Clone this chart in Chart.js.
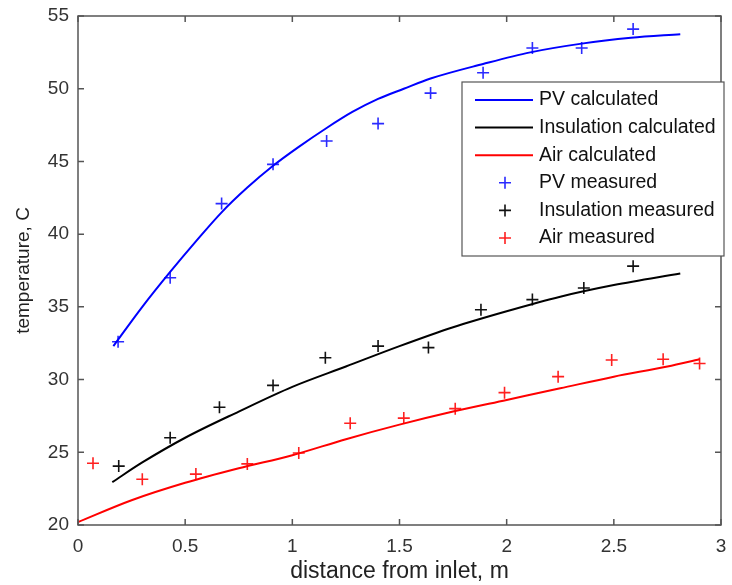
<!DOCTYPE html>
<html>
<head>
<meta charset="utf-8">
<script src="https://cdn.jsdelivr.net/npm/chart.js@4/dist/chart.umd.min.js"></script>
<style>
  body { margin: 0; background: #fff; }
  #wrap { width: 732px; height: 585px; }
</style>
</head>
<body>
<div id="wrap"><canvas id="tempChart" width="732" height="585"></canvas></div>
<script>
// calculated curves
var pvCalcX = [0.165, 0.3, 0.43, 0.55, 0.67, 0.79, 0.91, 1.03, 1.16, 1.28, 1.4, 1.52, 1.645, 1.89, 2.11, 2.35, 2.58, 2.81];
var pvCalcY = [32.3, 35.0, 37.4, 39.5, 41.5, 43.2, 44.7, 46.0, 47.3, 48.4, 49.3, 50.0, 50.7, 51.7, 52.5, 53.1, 53.5, 53.75];
var insCalcX = [0.16, 0.3, 0.5, 0.75, 1.0, 1.25, 1.5, 1.75, 2.0, 2.25, 2.5, 2.81];
var insCalcY = [22.95, 24.3, 26.0, 27.8, 29.5, 30.9, 32.3, 33.6, 34.7, 35.7, 36.5, 37.3];
var airCalcX = [0, 0.25, 0.5, 0.75, 1.0, 1.25, 1.5, 1.75, 2.0, 2.25, 2.5, 2.75, 2.9];
var airCalcY = [20.2, 21.7, 22.9, 23.9, 24.8, 25.9, 26.9, 27.8, 28.6, 29.4, 30.2, 30.9, 31.4];

// measured points
var pvMeasX = [0.187, 0.43, 0.67, 0.91, 1.16, 1.40, 1.645, 1.89, 2.12, 2.35, 2.59];
var pvMeasY = [32.6, 37.0, 42.1, 44.8, 46.4, 47.6, 49.7, 51.1, 52.8, 52.8, 54.1];
var insMeasX = [0.19, 0.43, 0.66, 0.91, 1.154, 1.40, 1.635, 1.88, 2.12, 2.36, 2.59];
var insMeasY = [24.05, 26.0, 28.1, 29.6, 31.5, 32.3, 32.2, 34.8, 35.5, 36.3, 37.8];
var airMeasX = [0.07, 0.30, 0.55, 0.79, 1.03, 1.27, 1.52, 1.76, 1.99, 2.24, 2.49, 2.73, 2.9];
var airMeasY = [24.25, 23.15, 23.5, 24.2, 24.95, 27.0, 27.35, 28.0, 29.1, 30.2, 31.35, 31.4, 31.1];

var xTicks = [0, 0.5, 1, 1.5, 2, 2.5, 3];
var yTicks = [20, 25, 30, 35, 40, 45, 50, 55];

var FONT = "'Liberation Sans', Arial, sans-serif";
var AXIS_COLOR = "#555555";

function toPoints(xs, ys) {
  return xs.map(function(x, i) { return { x: x, y: ys[i] }; });
}

function lineSet(label, xs, ys, color) {
  return {
    label: label,
    data: toPoints(xs, ys),
    showLine: true,
    borderColor: color,
    backgroundColor: color,
    borderWidth: 2,
    pointRadius: 0,
    cubicInterpolationMode: "monotone"
  };
}

function markSet(label, xs, ys, color) {
  return {
    label: label,
    data: toPoints(xs, ys),
    showLine: false,
    borderColor: color,
    backgroundColor: color,
    pointStyle: "cross",
    pointRadius: 6,
    pointBorderWidth: 1.6
  };
}

// box + inward ticks, matlab style
var boxPlugin = {
  id: "boxPlugin",
  afterDraw: function(chart) {
    var ctx = chart.ctx;
    var a = chart.chartArea;
    var xs = chart.scales.x, ys = chart.scales.y;
    ctx.save();
    ctx.strokeStyle = AXIS_COLOR;
    ctx.lineWidth = 1.5;
    ctx.strokeRect(a.left, a.top, a.right - a.left, a.bottom - a.top);
    ctx.beginPath();
    xTicks.forEach(function(v) {
      var px = xs.getPixelForValue(v);
      ctx.moveTo(px, a.bottom); ctx.lineTo(px, a.bottom - 6);
      ctx.moveTo(px, a.top); ctx.lineTo(px, a.top + 6);
    });
    yTicks.forEach(function(v) {
      var py = ys.getPixelForValue(v);
      ctx.moveTo(a.left, py); ctx.lineTo(a.left + 6, py);
      ctx.moveTo(a.right, py); ctx.lineTo(a.right - 6, py);
    });
    ctx.stroke();
    ctx.restore();
  }
};

// legend box inside the plot, upper right
var legendPlugin = {
  id: "legendPlugin",
  afterDraw: function(chart) {
    var ctx = chart.ctx;
    var a = chart.chartArea;
    var boxR = a.right + 3, boxL = 462, boxT = 82, boxB = 256;
    var rowH = 27.6, firstY = 100;
    ctx.save();
    ctx.fillStyle = "#ffffff";
    ctx.fillRect(boxL, boxT, boxR - boxL, boxB - boxT);
    ctx.strokeStyle = AXIS_COLOR;
    ctx.lineWidth = 1.2;
    ctx.strokeRect(boxL, boxT, boxR - boxL, boxB - boxT);
    ctx.font = "19.5px " + FONT;
    ctx.textBaseline = "middle";
    chart.data.datasets.forEach(function(ds, i) {
      var y = firstY + i * rowH;
      ctx.strokeStyle = ds.borderColor;
      if (ds.showLine) {
        ctx.lineWidth = 2;
        ctx.beginPath();
        ctx.moveTo(475, y); ctx.lineTo(533, y);
        ctx.stroke();
      } else {
        ctx.lineWidth = 1.6;
        ctx.beginPath();
        ctx.moveTo(505 - 6, y); ctx.lineTo(505 + 6, y);
        ctx.moveTo(505, y - 6); ctx.lineTo(505, y + 6);
        ctx.stroke();
      }
      ctx.fillStyle = "#111111";
      ctx.fillText(ds.label, 539, y);
    });
    ctx.restore();
  }
};

var chartCtx = document.getElementById("tempChart").getContext("2d");
var tempChart = new Chart(chartCtx, {
  type: "scatter",
  data: {
    datasets: [
      lineSet("PV calculated", pvCalcX, pvCalcY, "#0000ff"),
      lineSet("Insulation calculated", insCalcX, insCalcY, "#000000"),
      lineSet("Air calculated", airCalcX, airCalcY, "#ff0000"),
      markSet("PV measured", pvMeasX, pvMeasY, "#2a2aff"),
      markSet("Insulation measured", insMeasX, insMeasY, "#111111"),
      markSet("Air measured", airMeasX, airMeasY, "#ff2020")
    ]
  },
  options: {
    responsive: false,
    animation: false,
    layout: { padding: { top: 16, right: 11, left: 0, bottom: 0 } },
    plugins: {
      legend: { display: false },
      tooltip: { enabled: false }
    },
    scales: {
      x: {
        type: "linear",
        min: 0,
        max: 3,
        afterBuildTicks: function(scale) {
          scale.ticks = xTicks.map(function(v) { return { value: v }; });
        },
        afterFit: function(scale) {
          scale.height = 60;
          scale.paddingLeft = 0;
          scale.paddingRight = 0;
        },
        grid: { display: false, drawTicks: false },
        border: { display: false },
        ticks: {
          padding: 10,
          color: "#333333",
          font: { family: FONT, size: 19 },
          callback: function(v) { return String(v); }
        },
        title: {
          display: true,
          text: "distance from inlet, m",
          color: "#222222",
          padding: { top: 0, bottom: 0 },
          font: { family: FONT, size: 23 }
        }
      },
      y: {
        type: "linear",
        min: 20,
        max: 55,
        afterBuildTicks: function(scale) {
          scale.ticks = yTicks.map(function(v) { return { value: v }; });
        },
        afterFit: function(scale) {
          scale.width = 78;
          scale.paddingTop = 0;
          scale.paddingBottom = 0;
        },
        grid: { display: false, drawTicks: false },
        border: { display: false },
        ticks: {
          padding: 9,
          color: "#333333",
          font: { family: FONT, size: 19 },
          callback: function(v) { return String(v); }
        },
        title: {
          display: true,
          text: "temperature, C",
          color: "#222222",
          padding: { top: 12, bottom: 0 },
          font: { family: FONT, size: 19 }
        }
      }
    }
  },
  plugins: [boxPlugin, legendPlugin]
});
</script>
</body>
</html>
